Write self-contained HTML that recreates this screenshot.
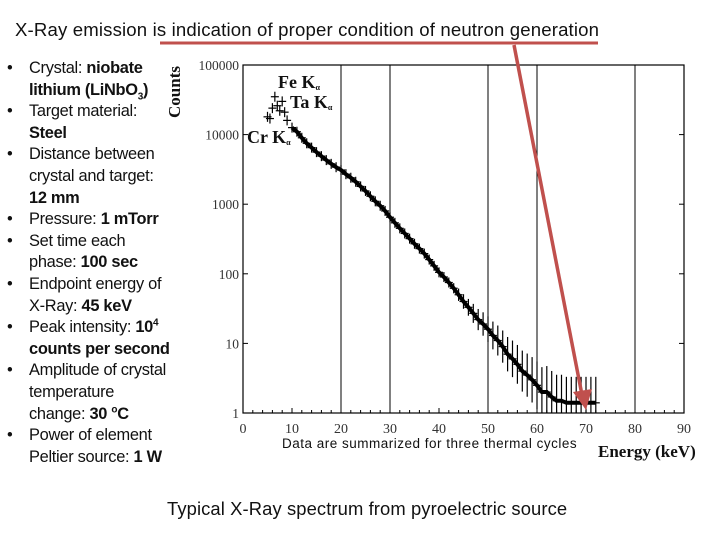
<!DOCTYPE html>
<html><head><meta charset="utf-8"><style>
body{margin:0;width:720px;height:540px;background:#fff;overflow:hidden;position:relative;font-family:"Liberation Sans",sans-serif}
.t{position:absolute;white-space:nowrap}
.bl{position:absolute;left:0;top:58px;font-size:16.4px;line-height:21.6px;color:#111;letter-spacing:-0.3px}
.bl div{position:relative;padding-left:29px;height:21.6px;white-space:nowrap}
.bl div.b:before{content:"•";position:absolute;left:7px}
.bl sub,.bl sup{font-size:10px;line-height:0}
</style></head><body>
<div class="t" style="left:15px;top:19px;font-size:18.6px;color:#111;letter-spacing:0.15px">X-Ray emission is indication of proper condition of neutron generation</div>
<div class="bl">
<div class="b">Crystal: <b>niobate</b></div><div><b>lithium (LiNbO<sub>3</sub>)</b></div>
<div class="b">Target material:</div><div><b>Steel</b></div>
<div class="b">Distance between</div><div>crystal and target:</div><div><b>12 mm</b></div>
<div class="b">Pressure: <b>1 mTorr</b></div>
<div class="b">Set time each</div><div>phase: <b>100 sec</b></div>
<div class="b">Endpoint energy of</div><div>X-Ray: <b>45 keV</b></div>
<div class="b">Peak intensity: <b>10<sup>4</sup></b></div><div><b>counts per second</b></div>
<div class="b">Amplitude of crystal</div><div>temperature</div><div>change: <b>30 <sup>o</sup>C</b></div>
<div class="b">Power of element</div><div>Peltier source: <b>1 W</b></div>
</div>
<svg id="chart" width="720" height="540" style="position:absolute;left:0;top:0" font-family="Liberation Serif, serif"></svg>
<div class="t" style="left:282px;top:436px;font-size:13.5px;color:#111;letter-spacing:0.5px">Data are summarized for three thermal cycles</div>
<div class="t" style="left:167px;top:498px;font-size:18.4px;color:#111;letter-spacing:0.1px">Typical X-Ray spectrum from pyroelectric source</div>
<script>
const energies=[5,5.5,6,6.5,7,7.5,8,8.5,9,10,11,12,13,14,15,16,17,18,19,20,21,22,23,24,25,26,27,28,29,30,31,32,33,34,35,36,37,38,39,40,41,42,43,44,45,46,47,48,49,50,51,52,53,54,55,56,57,58,59,60,61,62,63,64,65,66,67,68,69,70,71,72];
const counts=[18000,17000,24000,35000,26000,22000,30000,21000,16000,12600,11000,9000,7500,6500,5600,4900,4300,3800,3400,3100,2700,2400,2100,1800,1550,1300,1100,950,800,650,540,450,380,320,270,230,195,160,130,105,90,75,62,50,40,33,27,22,19,16,13,11,9,7,6,5,4,3.5,3,2.5,2,2,1.7,1.5,1.5,1.4,1.4,1.4,1.4,1.4,1.4,1.4];
const xTicks=[0,10,20,30,40,50,60,70,80,90];
const yTicks=[1,10,100,1000,10000,100000];
const yTickLabels=["1","10","100","1000","10000","100000"];
const gridX=[20,30,50,60,80];
const NS="http://www.w3.org/2000/svg";
const svg=document.getElementById('chart');
const X0=243,X1=684,Y0=413,Y1=65;
const xs=e=>X0+e/90*(X1-X0);
const ys=c=>Y0-Math.log10(c)/5*(Y0-Y1);
function mk(tag,at,parent){const el=document.createElementNS(NS,tag);for(const k in at)el.setAttribute(k,at[k]);(parent||svg).appendChild(el);return el;}
gridX.forEach(g=>{const l=mk('line',{x1:xs(g),x2:xs(g),y1:Y1,y2:Y0,stroke:'#000','stroke-width':1});

});
const fr=mk('rect',{x:X0,y:Y1,width:X1-X0,height:Y0-Y1,fill:'none',stroke:'#000','stroke-width':1.2});


yTicks.forEach((v,i)=>{const y=ys(v);
mk('line',{x1:X0,x2:X0+5,y1:y,y2:y,stroke:'#000'});mk('line',{x1:X1-5,x2:X1,y1:y,y2:y,stroke:'#000'});
const t=mk('text',{x:X0-4,y:y+5,'text-anchor':'end','font-size':13.5,fill:'#333'});t.textContent=yTickLabels[i];

});
xTicks.forEach(v=>{const x=xs(v);
mk('line',{x1:x,x2:x,y1:Y0,y2:Y0-5,stroke:'#000'});
const t=mk('text',{x:x,y:Y0+20,'text-anchor':'middle','font-size':14,fill:'#333'});t.textContent=v;

});
for(let e=2;e<90;e+=2){mk('line',{x1:xs(e),x2:xs(e),y1:Y0,y2:Y0-3,stroke:'#000'});}
let d='';energies.forEach((e,i)=>{if(e<10)return;d+=(d?'L':'M')+xs(e).toFixed(1)+' '+ys(counts[i]).toFixed(1);});
const ln=mk('path',{d:d,fill:'none',stroke:'#000','stroke-width':4});


energies.forEach((e,i)=>{const x=xs(e),y=ys(counts[i]);
const err=e>42?Math.min(22,(e-42)*1.1):1;
const g=mk('g',{stroke:'#000','stroke-width':1.2});


mk('line',{x1:x-4,x2:x+4,y1:y,y2:y},g);
mk('line',{x1:x,x2:x,y1:Math.max(Y1,y-err-4),y2:Math.min(Y0,y+err+4)},g);});
function lbl(txt,x,y,name){const t=mk('text',{x:x,y:y,'font-size':18,'font-weight':'bold',fill:'#111'});t.textContent=txt;
const s=mk('tspan',{'font-size':8,dy:2},t);s.textContent='\u03b1';

return t;}
lbl('Fe K',278,88,'fe-ka-label');lbl('Ta K',290,108,'ta-ka-label');lbl('Cr K',247,143,'cr-ka-label');
const xt=mk('text',{x:598,y:457,'font-size':17,'font-weight':'bold',fill:'#111'});xt.textContent='Energy (keV)';


const yt=mk('text',{x:0,y:0,'font-size':17,'font-weight':'bold',fill:'#111','text-anchor':'middle',transform:'translate(180,92) rotate(-90)'});yt.textContent='Counts';


const ul=mk('line',{x1:160,x2:598,y1:43,y2:43,stroke:'#c0504d','stroke-width':3});


const ar=mk('line',{x1:514,y1:45,x2:582,y2:395,stroke:'#c0504d','stroke-width':3.5});


const ah=mk('polygon',{points:'573,392 592,389 586,410',fill:'#c0504d'});


</script>
</body></html>
